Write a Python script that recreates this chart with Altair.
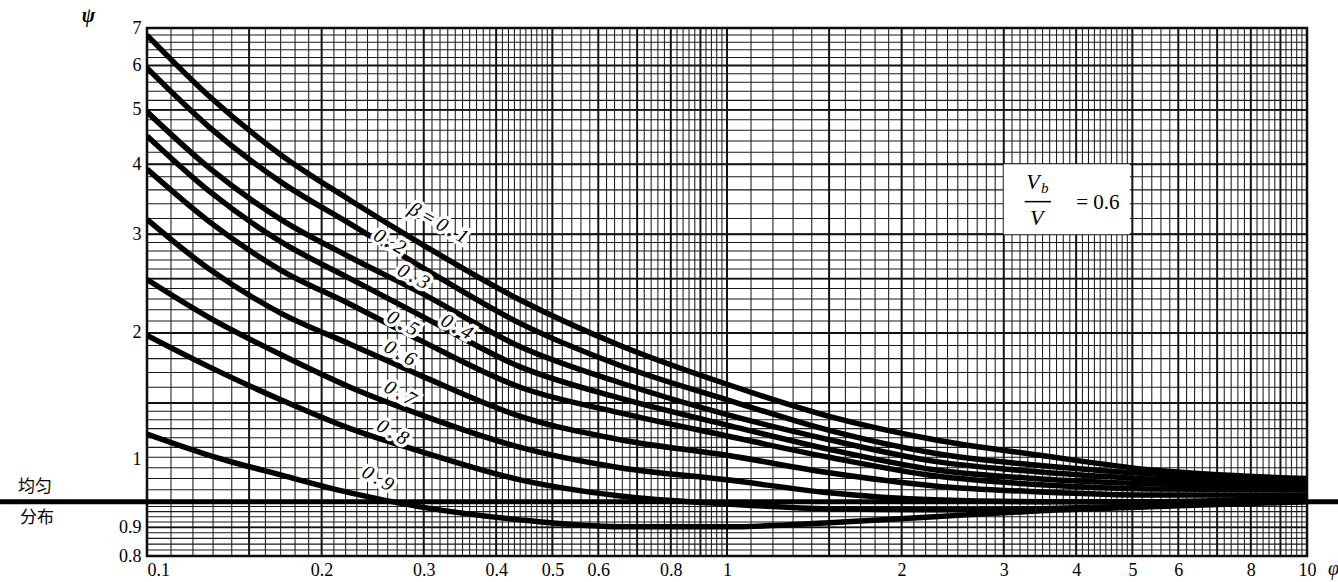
import altair as alt
import pandas as pd
import numpy as np

# ---------------- data ----------------
phi = [0.1, 0.128, 0.17, 0.224, 0.296, 0.44, 0.654, 1.0, 1.5, 2.28, 3.47, 5.36, 10]

psi_b01 = [6.80, 5.29, 4.16, 3.45, 2.89, 2.29, 1.90, 1.62, 1.42, 1.29, 1.21, 1.14, 1.10]
psi_b02 = [5.94, 4.66, 3.72, 3.13, 2.63, 2.08, 1.75, 1.52, 1.34, 1.22, 1.16, 1.121, 1.089]
psi_b03 = [4.96, 3.94, 3.19, 2.73, 2.36, 1.89, 1.63, 1.43, 1.29, 1.18, 1.13, 1.098, 1.076]
psi_b04 = [4.49, 3.58, 2.91, 2.50, 2.15, 1.74, 1.53, 1.37, 1.24, 1.14, 1.098, 1.076, 1.063]
psi_b05 = [3.92, 3.16, 2.59, 2.25, 1.94, 1.60, 1.44, 1.31, 1.20, 1.112, 1.072, 1.054, 1.050]
psi_b06 = [3.19, 2.60, 2.17, 1.91, 1.68, 1.42, 1.29, 1.21, 1.126, 1.067, 1.041, 1.028, 1.028]
psi_b07 = [2.49, 2.13, 1.83, 1.60, 1.43, 1.25, 1.15, 1.094, 1.037, 1.0075, 1.0, 1.0, 1.020]
psi_b08 = [1.98, 1.74, 1.52, 1.35, 1.23, 1.094, 1.024, 0.991, 0.971, 0.967, 0.971, 0.983, 1.0075]
psi_b09 = [1.32, 1.21, 1.116, 1.037, 0.979, 0.928, 0.902, 0.902, 0.917, 0.940, 0.963, 0.979, 1.0]

betas = ["0.1", "0.2", "0.3", "0.4", "0.5", "0.6", "0.7", "0.8", "0.9"]
psi_all = [psi_b01, psi_b02, psi_b03, psi_b04, psi_b05, psi_b06, psi_b07, psi_b08, psi_b09]

T = "\u2009"  # thin space, the curve labels are set with wide letter spacing
label_text = [T.join("β=0.1"), T.join("0.2"), T.join("0.3"), T.join("0.4"), T.join("0.5"),
              T.join("0.6"), T.join("0.7"), T.join("0.8"), T.join("0.9")]
label_phi = [0.318, 0.262, 0.288, 0.342, 0.276, 0.273, 0.273, 0.265, 0.25]
label_psi = [3.14, 2.91, 2.52, 2.05, 2.08, 1.84, 1.56, 1.33, 1.10]

x_tick_values = [0.1, 0.2, 0.3, 0.4, 0.5, 0.6, 0.8, 1, 2, 3, 4, 5, 6, 8, 10]
y_tick_values = [0.8, 0.9, 1.19, 2, 3, 4, 5, 6, 7]   # the "1" label sits above its line in the original

uniform_psi = [1.0]
box_phi = [3.0, 4.95]
box_psi = [3.0, 4.0]

frac_italic_text = ["V", "V"]
frac_italic_phi = [3.37, 3.42]
frac_italic_psi = [3.72, 3.21]
frac_sub_text = ["b"]
frac_sub_phi = [3.53]
frac_sub_psi = [3.63]
frac_eq_text = ["= 0.6"]
frac_eq_phi = [4.36]
frac_eq_psi = [3.41]
frac_bar_phi = [3.26, 3.62]
frac_bar_psi = [3.43]


def seq(a, b, s):
    return [round(v, 4) for v in np.arange(a, b + s / 2, s)]


v_minor = []
for d in [0.1, 1.0]:
    v_minor += [round(v * d, 5) for v in seq(1.0, 2.0, 0.1) + seq(2.0, 5.0, 0.1) + seq(5.0, 10.0, 0.2)]
v_major = [0.15, 0.2, 0.3, 0.4, 0.5, 0.6, 0.7, 0.8, 0.9, 1.0, 1.5, 2, 3, 4, 5, 6, 7, 8, 9]
h_minor = seq(0.8, 1.0, 0.02) + seq(1.0, 1.5, 0.05) + seq(1.5, 3.0, 0.1) + seq(3.0, 7.0, 0.2)
h_major = [0.9, 1.5, 2, 2.5, 3, 4, 5, 6]

# ---------------- tables ----------------
rows = []
for b, ps in zip(betas, psi_all):
    for f, p in zip(phi, ps):
        rows.append({"beta": b, "phi": f, "psi": p})
curves = pd.DataFrame(rows)

labels = pd.DataFrame({"t": label_text, "phi": label_phi, "psi": label_psi})

xs = alt.Scale(type="log", domain=[0.1, 10], nice=False)
ys = alt.Scale(type="log", domain=[0.8, 7], nice=False)
SERIF = "Liberation Serif"

X_AX = alt.Axis(
    values=x_tick_values, format="~g", title="φ", labelFont=SERIF, labelFontSize=18,
    labelColor="black", ticks=False, domain=False, grid=False, labelPadding=5,
    labelOverlap=False, labelFlush=False,
    labelAlign={"condition": {"test": "datum.value < 0.11", "value": "left"}, "value": "center"},
    titleFont=SERIF, titleFontSize=20, titleFontWeight="normal", titleFontStyle="italic",
    titleColor="black", titleX=1186, titleY=12, titleBaseline="middle", titleAlign="center")
Y_AX = alt.Axis(
    values=y_tick_values, format="~g",
    labelExpr="abs(datum.value - 1.19) < 0.01 ? '1' : datum.label",
    title="ψ", labelFont=SERIF, labelFontSize=18, labelColor="black",
    ticks=False, domain=False, grid=False, labelPadding=6, labelOverlap=False,
    labelFlush=False, titleFont=SERIF, titleFontSize=20, titleFontWeight="bold",
    titleFontStyle="italic", titleColor="black", titleAngle=0, titleX=-59, titleY=-13,
    titleAlign="center", titleBaseline="middle")


def X(f):
    return alt.X(f, scale=xs, axis=X_AX)


def Y(f):
    return alt.Y(f, scale=ys, axis=Y_AX)


vgrid_minor = alt.Chart(pd.DataFrame({"v": v_minor})).mark_rule(
    color="#1a1a1a", strokeWidth=1.05).encode(x=X("v:Q"))
vgrid_major = alt.Chart(pd.DataFrame({"v": v_major})).mark_rule(
    color="#111", strokeWidth=1.9).encode(x=X("v:Q"))
hgrid_minor = alt.Chart(pd.DataFrame({"h": h_minor})).mark_rule(
    color="#1a1a1a", strokeWidth=1.05).encode(y=Y("h:Q"))
hgrid_major = alt.Chart(pd.DataFrame({"h": h_major})).mark_rule(
    color="#111", strokeWidth=1.9).encode(y=Y("h:Q"))

box = alt.Chart(pd.DataFrame({"x1": [box_phi[0]], "x2": [box_phi[1]],
                              "y1": [box_psi[0]], "y2": [box_psi[1]]})).mark_rect(
    color="white").encode(x=X("x1:Q"), x2="x2:Q", y=Y("y1:Q"), y2="y2:Q")

uniform = alt.Chart(pd.DataFrame({"u": uniform_psi})).mark_rule(
    color="black", strokeWidth=5, clip=False).encode(
    y=Y("u:Q"), x=alt.value(-147), x2=alt.value(1191))

uniform_top = alt.Chart(pd.DataFrame({"u": uniform_psi, "t": ["均匀"]})).mark_text(
    font="Noto Sans CJK SC", fontSize=17, dy=-15, color="black").encode(
    y=Y("u:Q"), x=alt.value(-112), text="t:N")
uniform_bot = alt.Chart(pd.DataFrame({"u": uniform_psi, "t": ["分布"]})).mark_text(
    font="Noto Sans CJK SC", fontSize=17, dy=16, color="black").encode(
    y=Y("u:Q"), x=alt.value(-110), text="t:N")

lines = alt.Chart(curves).mark_line(
    color="black", strokeWidth=5.5, interpolate="monotone", clip=True).encode(
    x=X("phi:Q"), y=Y("psi:Q"), detail="beta:N")

lab_halo = alt.Chart(labels).mark_text(
    font=SERIF, fontSize=20, fontStyle="italic", angle=29, color="white",
    stroke="white", strokeWidth=7).encode(x=X("phi:Q"), y=Y("psi:Q"), text="t:N")
lab_text = alt.Chart(labels).mark_text(
    font=SERIF, fontSize=20, fontStyle="italic", angle=29, color="black").encode(
    x=X("phi:Q"), y=Y("psi:Q"), text="t:N")

fr_it = alt.Chart(pd.DataFrame({"t": frac_italic_text, "phi": frac_italic_phi, "psi": frac_italic_psi})).mark_text(
    font=SERIF, fontSize=22, fontStyle="italic", color="black").encode(
    x=X("phi:Q"), y=Y("psi:Q"), text="t:N")
fr_sub = alt.Chart(pd.DataFrame({"t": frac_sub_text, "phi": frac_sub_phi, "psi": frac_sub_psi})).mark_text(
    font=SERIF, fontSize=15, fontStyle="italic", color="black").encode(
    x=X("phi:Q"), y=Y("psi:Q"), text="t:N")
fr_eq = alt.Chart(pd.DataFrame({"t": frac_eq_text, "phi": frac_eq_phi, "psi": frac_eq_psi})).mark_text(
    font=SERIF, fontSize=21, color="black").encode(
    x=X("phi:Q"), y=Y("psi:Q"), text="t:N")
fr_bar = alt.Chart(pd.DataFrame({"a": [frac_bar_phi[0]], "b": [frac_bar_phi[1]], "y": frac_bar_psi})).mark_rule(
    color="black", strokeWidth=1.5).encode(x=X("a:Q"), x2="b:Q", y=Y("y:Q"))

chart = alt.layer(
    vgrid_minor, hgrid_minor, vgrid_major, hgrid_major, box, uniform,
    uniform_top, uniform_bot, lines, lab_halo, lab_text, fr_it, fr_sub, fr_eq, fr_bar
).properties(
    width=1160, height=528,
    padding={"left": 147, "top": 28, "right": 31, "bottom": 26},
    autosize=alt.AutoSizeParams(type="none"),
    background="white",
).configure_view(stroke="black", strokeWidth=2.5)

chart.save("out.html", embed_options={"renderer": "svg", "actions": False})
